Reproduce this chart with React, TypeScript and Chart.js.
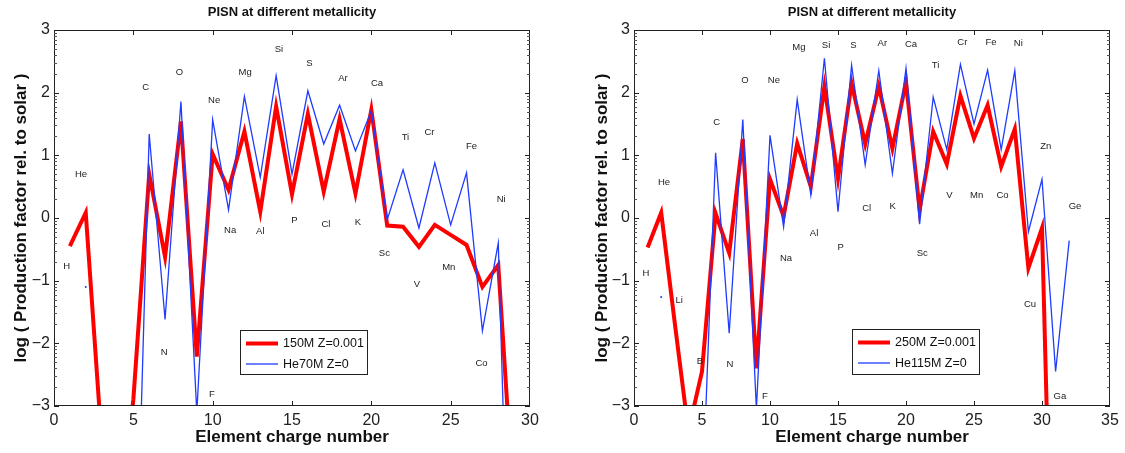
import React, { useEffect, useRef } from "react";
import { Chart, registerables } from "chart.js";
Chart.register(...registerables);

const FONT = '"Liberation Sans", Arial, Helvetica, sans-serif';

// ---- Panel 1 data (Z = 1..29) ----
const z1 = [1, 2, 3, 4, 5, 6, 7, 8, 9, 10, 11, 12, 13, 14, 15, 16, 17, 18, 19, 20, 21, 22, 23, 24, 25, 26, 27, 28, 29];
const red150 = [-0.45, 0.085, -3.55, -5.0, -2.9, 0.7, -0.62, 1.54, -2.21, 1.02, 0.45, 1.38, 0.1, 1.78, 0.38, 1.66, 0.42, 1.58, 0.39, 1.73, -0.12, -0.14, -0.46, -0.11, -0.27, -0.43, -1.1, -0.75, -4.7];
const blue70 = [null, -1.1, null, null, -7.5, 1.34, -1.62, 1.86, -3.1, 1.57, 0.13, 1.94, 0.65, 2.27, 0.7, 2.03, 1.18, 1.8, 1.07, 1.71, -0.03, 0.77, -0.16, 0.88, -0.11, 0.72, -1.8, -0.4, -9.0];
const names1 = ["H", "He", "C", "N", "O", "F", "Ne", "Na", "Mg", "Al", "Si", "P", "S", "Cl", "Ar", "K", "Ca", "Sc", "Ti", "V", "Cr", "Mn", "Fe", "Co", "Ni"];
const labelX1 = [0.8, 1.7, 5.78, 6.94, 7.91, 9.95, 10.09, 11.1, 12.05, 13.0, 14.18, 15.16, 16.09, 17.14, 18.21, 19.16, 20.36, 20.82, 22.15, 22.88, 23.66, 24.88, 26.31, 26.94, 28.18];
const labelY1 = [-0.77, 0.7, 2.09, -2.14, 2.32, -2.81, 1.88, -0.19, 2.32, -0.21, 2.69, -0.03, 2.46, -0.1, 2.23, -0.07, 2.15, -0.56, 1.28, -1.06, 1.36, -0.78, 1.14, -2.32, 0.29];

// ---- Panel 2 data (Z = 1..32) ----
const z2 = [1, 2, 3, 4, 5, 6, 7, 8, 9, 10, 11, 12, 13, 14, 15, 16, 17, 18, 19, 20, 21, 22, 23, 24, 25, 26, 27, 28, 29, 30, 31, 32];
const red250 = [-0.47, 0.085, -1.68, -3.4, -2.45, 0.075, -0.56, 1.26, -2.4, 0.62, 0.03, 1.19, 0.5, 2.1, 0.63, 2.15, 1.18, 2.1, 1.11, 2.17, 0.13, 1.38, 0.86, 1.95, 1.27, 1.8, 0.82, 1.42, -0.8, -0.16, -8.5, null];
const blue115 = [null, -1.26, null, null, -4.65, 1.04, -1.84, 1.57, -3.05, 1.32, -0.14, 1.89, 0.37, 2.55, 0.1, 2.44, 0.85, 2.35, 0.71, 2.39, -0.1, 1.93, 1.09, 2.45, 1.5, 2.36, 1.09, 2.35, -0.22, 0.62, -2.45, -0.36];
const names2 = ["H", "He", "Li", "B", "C", "N", "O", "F", "Ne", "Na", "Mg", "Al", "Si", "P", "S", "Cl", "Ar", "K", "Ca", "Sc", "Ti", "V", "Cr", "Mn", "Fe", "Co", "Ni", "Cu", "Zn", "Ga", "Ge"];
const labelX2 = [0.88, 2.21, 3.33, 4.85, 6.08, 7.06, 8.16, 9.63, 10.29, 11.18, 12.13, 13.24, 14.12, 15.2, 16.13, 17.11, 18.26, 19.02, 20.37, 21.2, 22.18, 23.19, 24.14, 25.2, 26.25, 27.1, 28.26, 29.12, 30.27, 31.32, 32.43];
const labelY2 = [-0.88, 0.57, -1.31, -2.28, 1.53, -2.33, 2.2, -2.85, 2.2, -0.65, 2.72, -0.24, 2.76, -0.47, 2.76, 0.15, 2.78, 0.18, 2.77, -0.56, 2.43, 0.36, 2.8, 0.36, 2.8, 0.36, 2.79, -1.38, 1.15, -2.84, 0.18];

const yTicks = [-3, -2, -1, 0, 1, 2, 3];

const TITLE = "PISN at different metallicity";
const XLABEL = "Element charge number";
const YLABEL = "log ( Production factor rel. to solar )";

const RED = "#ff0000";
const BLUE = "#1f3cff";

const decorPlugin = {
  id: "decor",
  afterDraw(chart: any, _args: any, opts: any) {
    const { ctx, chartArea: a } = chart;
    const xs = chart.scales.x;
    const ys = chart.scales.y;
    ctx.save();
    // frame
    ctx.strokeStyle = "#222";
    ctx.lineWidth = 1;
    ctx.strokeRect(a.left + 0.5, a.top + 0.5, a.right - a.left - 1, a.bottom - a.top - 1);
    // x ticks (inward, top and bottom)
    ctx.beginPath();
    for (let v = xs.min + 5; v < xs.max; v += 5) {
      const px = Math.round(xs.getPixelForValue(v)) + 0.5;
      ctx.moveTo(px, a.bottom);
      ctx.lineTo(px, a.bottom - 5);
      ctx.moveTo(px, a.top);
      ctx.lineTo(px, a.top + 5);
    }
    // y major ticks
    for (const v of yTicks) {
      const py = Math.round(ys.getPixelForValue(v)) + 0.5;
      ctx.moveTo(a.left, py);
      ctx.lineTo(a.left + 5, py);
      ctx.moveTo(a.right, py);
      ctx.lineTo(a.right - 5, py);
    }
    ctx.stroke();
    // y minor (log-style) ticks
    ctx.beginPath();
    ctx.strokeStyle = "#555";
    for (let d = -3; d < 3; d++) {
      for (let k = 2; k <= 9; k++) {
        const py = Math.round(ys.getPixelForValue(d + Math.log10(k))) + 0.5;
        ctx.moveTo(a.left, py);
        ctx.lineTo(a.left + 3, py);
        ctx.moveTo(a.right, py);
        ctx.lineTo(a.right - 3, py);
      }
    }
    ctx.stroke();

    // element labels
    ctx.fillStyle = "#222";
    ctx.font = `9.5px ${FONT}`;
    ctx.textAlign = "center";
    ctx.textBaseline = "middle";
    opts.names.forEach((n: string, i: number) => {
      ctx.fillText(n, xs.getPixelForValue(opts.lx[i]), ys.getPixelForValue(opts.ly[i]));
    });

    // legend
    const L = opts.legend;
    ctx.fillStyle = "#fff";
    ctx.fillRect(L.x, L.y, L.w, L.h);
    ctx.strokeStyle = "#222";
    ctx.lineWidth = 1;
    ctx.strokeRect(L.x + 0.5, L.y + 0.5, L.w, L.h);
    ctx.font = `12.5px ${FONT}`;
    ctx.textAlign = "left";
    chart.data.datasets.forEach((ds: any, i: number) => {
      const ry = L.y + 13.5 + i * 20.5;
      ctx.strokeStyle = ds.borderColor;
      ctx.lineWidth = ds.borderWidth;
      ctx.beginPath();
      ctx.moveTo(L.x + 6, ry);
      ctx.lineTo(L.x + 38, ry);
      ctx.stroke();
      ctx.fillStyle = "#111";
      ctx.fillText(ds.label, L.x + 43, ry + 0.5);
    });

    // titles
    ctx.fillStyle = "#111";
    ctx.textAlign = "center";
    ctx.font = `bold 13px ${FONT}`;
    const cx = (a.left + a.right) / 2;
    ctx.fillText(TITLE, cx, 12);
    ctx.font = `bold 17px ${FONT}`;
    ctx.fillText(XLABEL, cx, 437);
    ctx.save();
    ctx.translate(opts.yLabelX, (a.top + a.bottom) / 2);
    ctx.rotate(-Math.PI / 2);
    ctx.fillText(YLABEL, 0, 0);
    ctx.restore();
    ctx.restore();
  },
};

function pointR(ctx: any) {
  const d = ctx.dataset.data;
  const i = ctx.dataIndex;
  if (d[i] == null || d[i].y == null) return 0;
  const prev = i > 0 ? d[i - 1].y : null;
  const next = i < d.length - 1 ? d[i + 1].y : null;
  return prev == null && next == null ? 1 : 0;
}

function makeDs(label: string, zs: number[], vals: (number | null)[], color: string, width: number, order: number) {
  return {
    label,
    data: zs.map((z, i) => ({ x: z, y: vals[i] })),
    borderColor: color,
    backgroundColor: color,
    borderWidth: width,
    pointRadius: pointR,
    pointBorderWidth: 0,
    pointBackgroundColor: color,
    tension: 0,
    spanGaps: false,
    clip: 0,
    order,
  };
}

type PanelProps = {
  left: number;
  width: number;
  yWidth: number;
  rightPad: number;
  xMax: number;
  datasets: any[];
  decor: any;
};

function Panel(p: PanelProps) {
  const ref = useRef<HTMLCanvasElement | null>(null);
  useEffect(() => {
    const canvas = ref.current!;
    const chart = new Chart(canvas, {
      type: "line",
      data: { datasets: p.datasets },
      plugins: [decorPlugin],
      options: {
        animation: false,
        responsive: false,
        devicePixelRatio: 1,
        layout: { padding: { top: 30, right: p.rightPad, left: 0, bottom: 0 } },
        plugins: {
          legend: { display: false },
          title: { display: false },
          tooltip: { enabled: false },
          decor: p.decor,
        } as any,
        scales: {
          x: {
            type: "linear",
            min: 0,
            max: p.xMax,
            grid: { display: false, drawTicks: false },
            border: { display: false },
            ticks: {
              stepSize: 5,
              autoSkip: false,
              maxRotation: 0,
              padding: 5,
              color: "#222",
              font: { family: FONT, size: 16 },
            },
            afterFit: (s: any) => {
              s.height = 47;
            },
          },
          y: {
            type: "linear",
            min: -3,
            max: 3,
            grid: { display: false, drawTicks: false },
            border: { display: false },
            ticks: {
              stepSize: 1,
              padding: 4,
              color: "#222",
              font: { family: FONT, size: 16 },
              callback: (v: any) => (v < 0 ? "\u2212" + Math.abs(v) : String(v)),
            },
            afterFit: (s: any) => {
              s.width = p.yWidth;
            },
          },
        },
      } as any,
    });
    return () => chart.destroy();
  }, []);
  return (
    <canvas
      ref={ref}
      width={p.width}
      height={453}
      style={{ position: "absolute", left: p.left, top: 0, width: p.width, height: 453 }}
    />
  );
}

export default function App() {
  useEffect(() => {
    document.body.style.margin = "0";
  }, []);
  const ds1 = [
    makeDs("150M Z=0.001", z1, red150, RED, 4, 2),
    makeDs("He70M Z=0", z1, blue70, BLUE, 1.3, 1),
  ];
  const ds2 = [
    makeDs("250M Z=0.001", z2, red250, RED, 4, 2),
    makeDs("He115M Z=0", z2, blue115, BLUE, 1.3, 1),
  ];
  return (
    <div style={{ position: "relative", width: 1125, height: 453, background: "#fff" }}>
      <Panel
        left={0}
        width={562}
        yWidth={54}
        rightPad={32}
        xMax={30}
        datasets={ds1}
        decor={{ names: names1, lx: labelX1, ly: labelY1, legend: { x: 240, y: 330, w: 127, h: 44 }, yLabelX: 21 }}
      />
      <Panel
        left={562}
        width={563}
        yWidth={72}
        rightPad={15}
        xMax={35}
        datasets={ds2}
        decor={{ names: names2, lx: labelX2, ly: labelY2, legend: { x: 852 - 562, y: 329, w: 127, h: 45 }, yLabelX: 40 }}
      />
    </div>
  );
}
